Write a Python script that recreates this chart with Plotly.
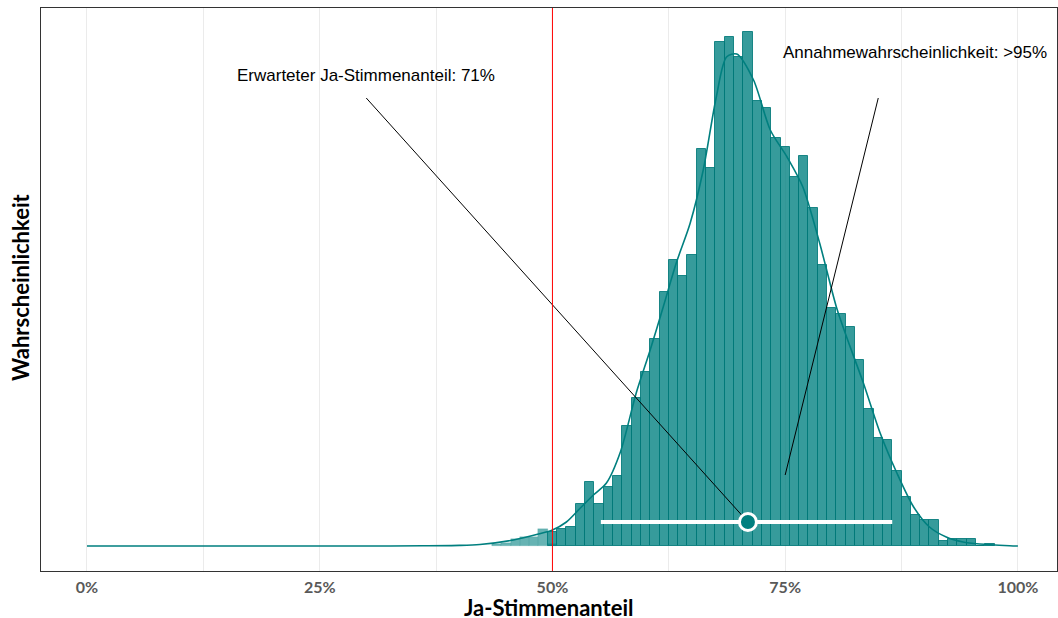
import plotly.graph_objects as go

# ---- data (histogram of simulated yes-shares, bins centred on whole percents) ----
bins_reject = [44, 45, 46, 47, 48, 49, 50]
counts_reject = [1.7, 3.2, 6.7, 8.7, 9.3, 16.7, 2.0]

bins_accept = list(range(50, 98))
counts_accept = [14.3, 16.7, 19.3, 42, 64, 42, 59.3, 70, 120, 148.3,
                 173.7, 206.7, 253.7, 286, 270, 291, 397, 378, 504, 509,
                 488.7, 514, 445.3, 438.3, 408.3, 398.7, 369, 389.7, 337.7, 281,
                 238.5, 231.7, 218.7, 186, 136.7, 107.7, 106, 75, 49, 31,
                 26, 26, 5, 6.7, 6.7, 6.7, 0, 2]

# density curve
dens_x = [0, 10, 20, 30, 36, 40, 42.2, 45.8, 48.5, 50, 51.5, 53, 54.4, 55.8, 57.3,
          59.0, 60.5, 61.9, 63.3, 64.8, 66.2, 67.6, 68.7, 69.8, 71.6, 73.4, 75.2,
          76.9, 78.7, 80.5, 81.6, 83.4, 85.2, 87.0, 88.8, 90.5, 92.3, 94.1, 95.9,
          99.1, 100]
dens_y = [0, 0, 0, 0, 0.2, 0.6, 1.5, 6, 12, 16, 24, 38, 51, 63, 94,
          153, 196, 239, 283, 323, 376, 449, 489, 492, 466, 416, 389,
          359, 303, 239, 209, 163, 113, 73, 39, 19, 9, 4, 2,
          0.3, 0]

# summary
expected_share = 71
interval = [55.2, 86.5]
interval_level = 24
threshold = 50

tick_vals = [0, 25, 50, 75, 100]
tick_text = ["0%", "25%", "50%", "75%", "100%"]
minor_vals = [12.5, 37.5, 62.5, 87.5]

label_expected = "Erwarteter Ja-Stimmenanteil: 71%"
label_prob = "Annahmewahrscheinlichkeit: >95%"
label_expected_pos = (30, 471)
line_expected_start = (30, 448)
label_prob_pos = (88.9, 494)
line_prob = [(85.0, 448), (75.0, 71)]

x_title = "Ja-Stimmenanteil"
y_title = "Wahrscheinlichkeit"

TEAL = "#007f7f"

fig = go.Figure()

fig.add_trace(go.Bar(x=bins_accept, y=counts_accept, width=1,
                     marker=dict(color="rgba(0,128,128,0.79)",
                                 line=dict(color="rgba(0,120,120,0.85)", width=1)),
                     showlegend=False, hoverinfo="skip"))
fig.add_trace(go.Bar(x=bins_reject, y=counts_reject, width=1,
                     marker=dict(color="rgba(0,128,128,0.6)",
                                 line=dict(color="rgba(0,128,128,0.3)", width=0.5)),
                     showlegend=False, hoverinfo="skip"))

fig.add_trace(go.Scatter(x=dens_x, y=dens_y, mode="lines",
                         line=dict(color=TEAL, width=1.6, shape="spline", smoothing=0.8),
                         showlegend=False, hoverinfo="skip"))

# interval line
fig.add_trace(go.Scatter(x=interval, y=[interval_level] * 2, mode="lines",
                         line=dict(color="white", width=4),
                         showlegend=False, hoverinfo="skip"))

# annotation lines
fig.add_trace(go.Scatter(x=[line_expected_start[0], expected_share],
                         y=[line_expected_start[1], interval_level], mode="lines",
                         line=dict(color="black", width=1),
                         showlegend=False, hoverinfo="skip"))
fig.add_trace(go.Scatter(x=[p[0] for p in line_prob], y=[p[1] for p in line_prob],
                         mode="lines", line=dict(color="black", width=1),
                         showlegend=False, hoverinfo="skip"))

# expected point
fig.add_trace(go.Scatter(x=[expected_share], y=[interval_level], mode="markers",
                         marker=dict(color=TEAL, size=17,
                                     line=dict(color="white", width=3)),
                         showlegend=False, hoverinfo="skip"))

fig.add_vline(x=threshold, line=dict(color="red", width=1))

fig.add_annotation(x=label_expected_pos[0], y=label_expected_pos[1], text=label_expected,
                   showarrow=False, font=dict(family="Liberation Sans, Arial", size=17, color="black"))
fig.add_annotation(x=label_prob_pos[0], y=label_prob_pos[1], text=label_prob,
                   showarrow=False, font=dict(family="Liberation Sans, Arial", size=17, color="black"))

# axis titles
fig.add_annotation(xref="paper", yref="paper", x=0.5, y=0, yshift=-36, yanchor="middle",
                   text=x_title, showarrow=False, borderpad=0,
                   font=dict(family="Lato", size=22, color="black", weight="bold"))
fig.add_annotation(xref="paper", yref="paper", x=0, xshift=-21, xanchor="center",
                   y=0.5044, yanchor="middle", textangle=-90,
                   text=y_title, showarrow=False, borderpad=0,
                   font=dict(family="Lato", size=22, color="black", weight="bold"))

fig.update_layout(
    width=1058, height=618,
    margin=dict(l=41, r=1, t=8, b=47, autoexpand=False),
    plot_bgcolor="white", paper_bgcolor="white",
    barmode="overlay", bargap=0,
    xaxis=dict(range=[-4.94, 104.2], tickvals=tick_vals, ticktext=tick_text,
               automargin=False,
               showgrid=True, gridcolor="#ebebeb", gridwidth=1,
               minor=dict(tickvals=minor_vals, showgrid=True, gridcolor="#ebebeb", gridwidth=1),
               zeroline=False, showline=True, linecolor="#333333", linewidth=1, mirror=True,
               ticks="", ticklabelstandoff=2,
               tickfont=dict(family="Lato", size=16, color="#595959", weight="bold")),
    yaxis=dict(range=[-25, 538], showticklabels=False, showgrid=False, zeroline=False,
               automargin=False,
               showline=True, linecolor="#333333", linewidth=1, mirror=True, ticks=""),
)

page_css = ("document.body.style.margin='0';"
            "document.body.style.overflow='hidden';"
            "document.documentElement.style.overflow='hidden';")
fig.write_html("out.html", post_script=page_css, config={"displayModeBar": False})
